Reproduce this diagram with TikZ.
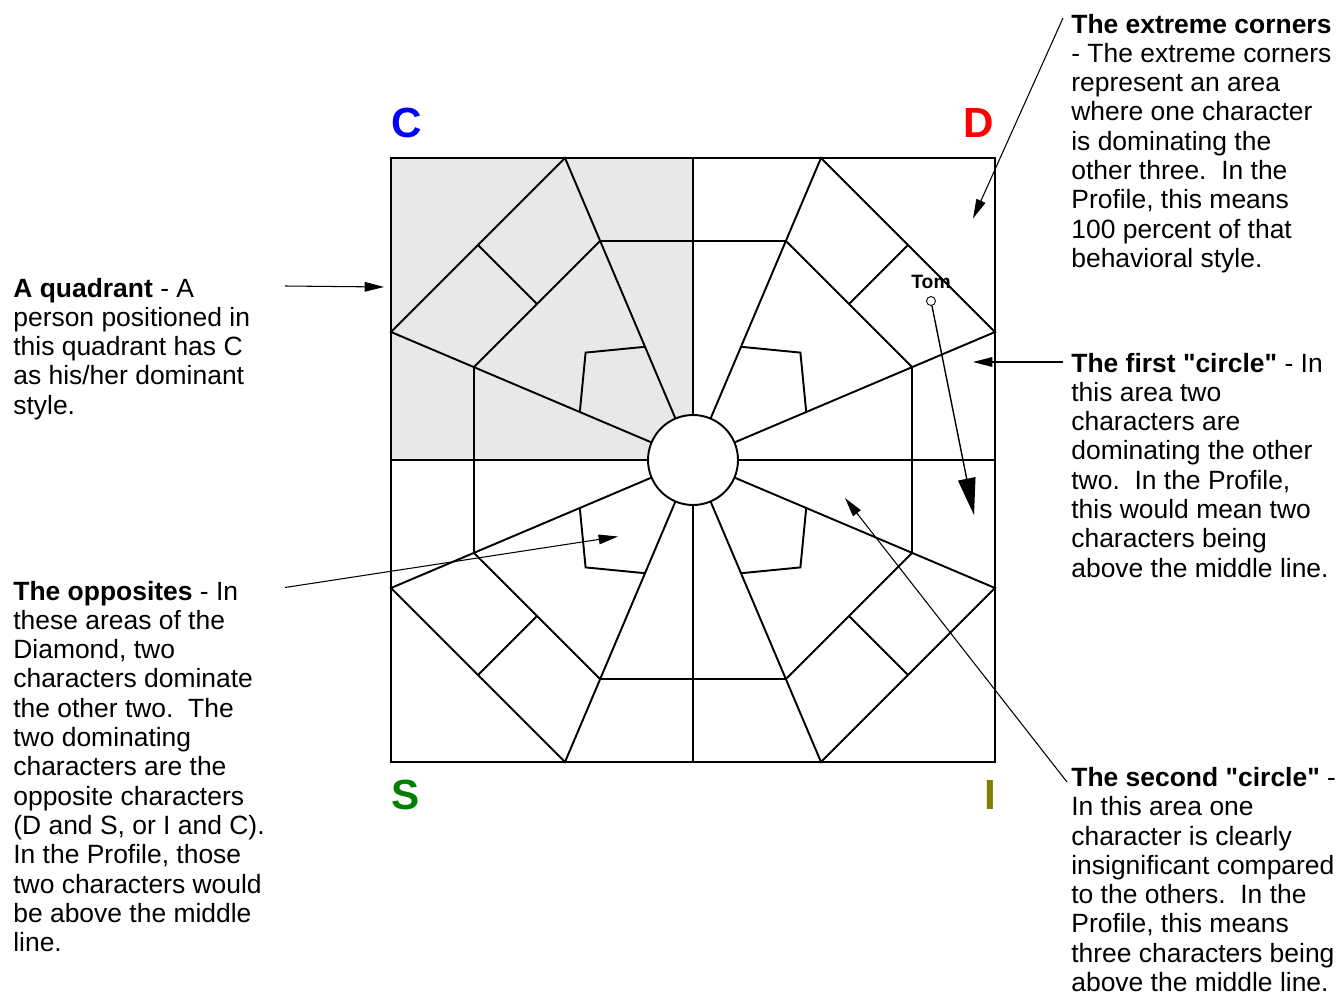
\documentclass[tikz,border=0pt]{standalone}
\usepackage{fontspec}
\setmainfont{Liberation Sans}
\newfontfamily\notefont{Liberation Sans}
\usepackage{xcolor}
\usetikzlibrary{arrows.meta}

\definecolor{styleS}{RGB}{0,128,0}
\definecolor{styleI}{RGB}{128,128,0}
\definecolor{quadgray}{RGB}{232,232,232}

\begin{document}
\begin{tikzpicture}[
  x=0.02cm, y=-0.02cm,
  grid/.style={line width=1.1pt, black},
  note/.style={
    anchor=north west, inner sep=0pt, align=left,
    font=\notefont\fontsize{15.05}{16.67}\selectfont
  },
  corner/.style={
    anchor=base west, inner sep=0pt,
    font=\notefont\fontsize{24}{28}\selectfont\bfseries
  },
  pointer/.style={-{Triangle[length=11pt, width=5.5pt]}, line width=0.6pt},
  bigpointer/.style={-{Triangle[length=21pt, width=10pt]}, line width=0.8pt},
]
\useasboundingbox (0,0) rectangle (1338,993);

%% ── Diamond ──────────────────────────────────────────────────────────────────
\fill[quadgray] (391,158) rectangle (693,460);
\draw[grid] (391,158) rectangle (995,762);
\draw[grid] (391,460) -- (995,460);
\draw[grid] (693,158) -- (693,762);

\foreach \sx/\sy in {1/1,-1/1,1/-1,-1/-1}{
  \begin{scope}[shift={(693,460)}, xscale=\sx, yscale=\sy]
    \draw[grid] (0,0) -- (-128,-302) -- (-302,-128) -- (0,0);
    \draw[grid] (-93,-219) -- (-219,-93);
    \draw[grid] (-93,-219) -- (0,-219);
    \draw[grid] (-219,-93) -- (-219,0);
    \draw[grid] (-215,-215) -- (-156,-156);
    \draw[grid] (-48.1,-113.2) -- (-107.4,-107.4) -- (-113.2,-48.1);
  \end{scope}
}
\draw[grid, fill=white] (693,460) circle[radius=45];

%% ── Styles at the corners ────────────────────────────────────────────────────
\node[corner, text=blue]   (lblC) at (391,138)   {C};
\node[corner, text=red]    (lblD) at (963.5,138) {D};
\node[corner, text=styleS] (lblS) at (391,809)   {S};
\node[corner, text=styleI] (lblI) at (984,809)   {I};

%% ── Tom ──────────────────────────────────────────────────────────────────────
\node[anchor=base, inner sep=0pt, font=\notefont\fontsize{11}{13}\selectfont\bfseries]
  (tomlabel) at (931,288) {Tom};
\node[draw, circle, fill=white, inner sep=0pt, minimum size=0.18cm, line width=0.5pt]
  (tom) at (931,301) {};

%% ── Notes ────────────────────────────────────────────────────────────────────
\node[note] (extreme) at (1071,13.6) {%
  \textbf{The extreme corners}\\
  - The extreme corners\\
  represent an area\\
  where one character\\
  is dominating the\\
  other three.\ \ In the\\
  Profile, this means\\
  100 percent of that\\
  behavioral style.};

\node[note] (first) at (1071,352.6) {%
  \textbf{The first "circle"} - In\\
  this area two\\
  characters are\\
  dominating the other\\
  two.\ \ In the Profile,\\
  this would mean two\\
  characters being\\
  above the middle line.};

\node[note] (second) at (1071,767) {%
  \textbf{The second "circle"} -\\
  In this area one\\
  character is clearly\\
  insignificant compared\\
  to the others.\ \ In the\\
  Profile, this means\\
  three characters being\\
  above the middle line.};

\node[note] (quadrant) at (13,277.6) {%
  \textbf{A quadrant} - A\\
  person positioned in\\
  this quadrant has C\\
  as his/her dominant\\
  style.};

\node[note] (opposites) at (13,580.6) {%
  \textbf{The opposites} - In\\
  these areas of the\\
  Diamond, two\\
  characters dominate\\
  the other two.\ \ The\\
  two dominating\\
  characters are the\\
  opposite characters\\
  (D and S, or I and C).\\
  In the Profile, those\\
  two characters would\\
  be above the middle\\
  line.};

%% ── Pointers ─────────────────────────────────────────────────────────────────
\coordinate (quadFrom)   at (285,286);
\coordinate (quadTo)     at (384,287);
\coordinate (oppFrom)    at (285,587.5);
\coordinate (oppTo)      at (618,536.5);
\coordinate (extFrom)    at (1063,18);
\coordinate (extTo)      at (973,218.5);
\coordinate (firstFrom)  at (1063,362);
\coordinate (firstTo)    at (973,362);
\coordinate (secondFrom) at (1067,782);
\coordinate (secondTo)   at (845,498);
\coordinate (tomTo)      at (974,515);

\draw[pointer] (quadFrom)   -- (quadTo);
\draw[pointer] (oppFrom)    -- (oppTo);
\draw[pointer] (extFrom)    -- (extTo);
\draw[pointer] (firstFrom)  -- (firstTo);
\draw[pointer] (secondFrom) -- (secondTo);
\draw[bigpointer] (tom)     -- (tomTo);

\end{tikzpicture}
\end{document}
